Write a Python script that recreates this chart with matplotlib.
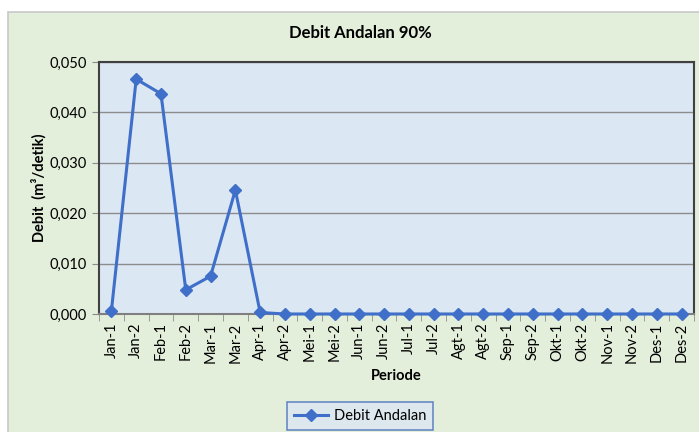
import matplotlib.pyplot as plt
from matplotlib.patches import Rectangle
from matplotlib.lines import Line2D

# ── Data ─────────────────────────────────────────────────────────
periode = ["Jan-1", "Jan-2", "Feb-1", "Feb-2", "Mar-1", "Mar-2",
           "Apr-1", "Apr-2", "Mei-1", "Mei-2", "Jun-1", "Jun-2",
           "Jul-1", "Jul-2", "Agt-1", "Agt-2", "Sep-1", "Sep-2",
           "Okt-1", "Okt-2", "Nov-1", "Nov-2", "Des-1", "Des-2"]
debit = [0.0006, 0.0466, 0.0437, 0.0048, 0.0075, 0.0246,
         0.0003, 0.0, 0.0, 0.0, 0.0, 0.0,
         0.0, 0.0, 0.0, 0.0, 0.0, 0.0,
         0.0, 0.0, 0.0, 0.0, 0.0, 0.0]
yticks = [0.0, 0.01, 0.02, 0.03, 0.04, 0.05]

LINE_C = "#3f6fc8"
PLOT_BG = "#dce7f4"
CHART_BG = "#e3eedb"
GRID_C = "#8c8c8c"

plt.rcParams["font.family"] = ["Lato", "DejaVu Sans"]

W, H = 699, 432
fig = plt.figure(figsize=(W / 100, H / 100), dpi=100)
fig.patch.set_facecolor("white")

# chart area background (runs off the right and bottom edges)
fig.patches.append(Rectangle((8 / W, -0.05), 1.05 - 8 / W, 1.05 - 12 / H,
                             transform=fig.transFigure, facecolor=CHART_BG,
                             edgecolor="#c8c8c8", linewidth=1.2, zorder=-5))

ax = fig.add_axes([99 / W, 1 - 314 / H, (694 - 99) / W, (314 - 62) / H])
ax.set_facecolor(PLOT_BG)

x = list(range(len(periode)))
ax.plot(x, debit, color=LINE_C, linewidth=2.2, marker="D", markersize=6,
        markeredgecolor=LINE_C, markerfacecolor=LINE_C, zorder=3, clip_on=False)

ax.set_xlim(-0.5, len(periode) - 0.5)
ax.set_ylim(0, 0.05)
ax.set_yticks(yticks)
ax.set_yticklabels([f"{v:.3f}".replace(".", ",") for v in yticks], fontsize=10.5)
ax.yaxis.grid(True, color=GRID_C, linewidth=1)
ax.set_axisbelow(True)

ax.set_xticks(x)
ax.set_xticklabels(periode, rotation=90, fontsize=10.5)
ax.tick_params(axis="x", length=0, pad=6)
ax.set_xticks([i - 0.5 for i in range(len(periode) + 1)], minor=True)
ax.tick_params(axis="x", which="minor", length=5, color=GRID_C, direction="out")
ax.tick_params(axis="y", length=5, color=GRID_C, direction="out", pad=4)

for s in ax.spines.values():
    s.set_color("#404040")
    s.set_linewidth(1.5)
ax.spines["bottom"].set_color("#7f7f7f")

ax.set_ylabel("Debit  (m³/detik)", fontsize=10.5, fontweight="bold", labelpad=2)
ax.set_xlabel("Periode", fontsize=10.5, fontweight="bold", labelpad=4)

fig.text(360 / W, 1 - 33 / H, "Debit Andalan 90%", ha="center", va="center",
         fontsize=12, fontweight="bold")

handle = Line2D([], [], color=LINE_C, linewidth=2.2, marker="D", markersize=6)
leg = fig.legend([handle], ["Debit Andalan"], loc="center",
                 bbox_to_anchor=(360 / W, 1 - 416 / H), fontsize=10.5,
                 frameon=True, fancybox=False, handlelength=2.3,
                 handletextpad=0.4, borderpad=0.5)
leg.get_frame().set_facecolor(PLOT_BG)
leg.get_frame().set_edgecolor("#4a72c0")
leg.get_frame().set_linewidth(1.2)

plt.savefig("out.png", dpi=100, facecolor=fig.get_facecolor())
